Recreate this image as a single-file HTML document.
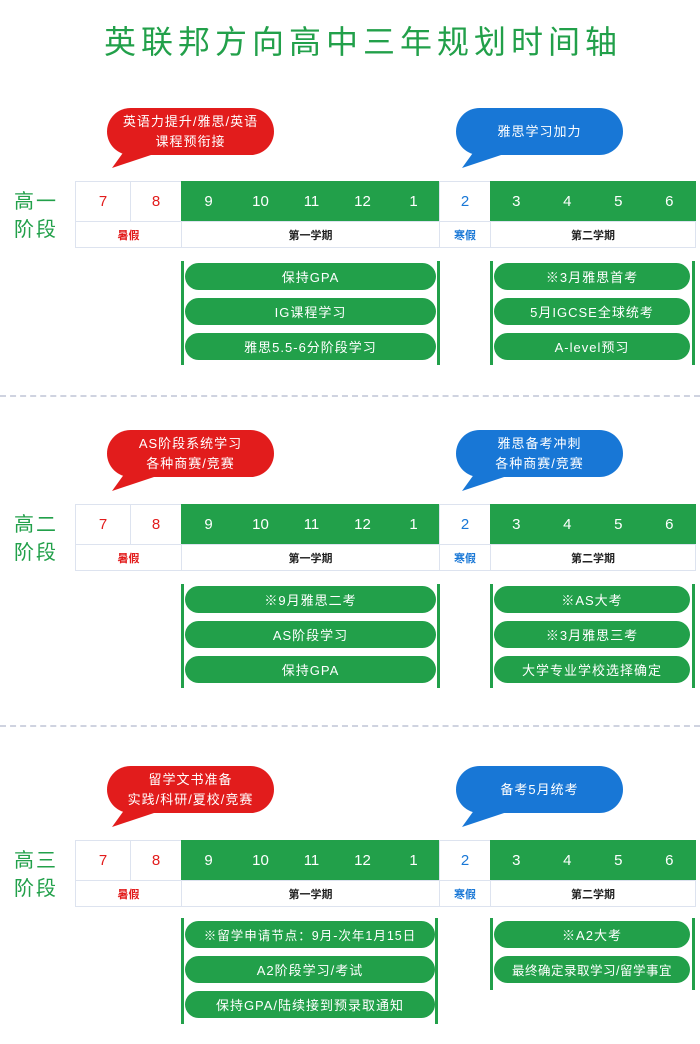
<!DOCTYPE html>
<html><head><meta charset="utf-8"><style>
*{margin:0;padding:0;box-sizing:border-box}
body{width:700px;height:1044px;background:#fff;position:relative;overflow:hidden;font-family:"Liberation Sans","Noto Sans CJK SC",sans-serif}
.t{position:absolute;top:20px;left:0;width:726px;text-align:center;color:#22a04a;font-size:32px;letter-spacing:5px;line-height:44px}
.s{position:absolute;left:0;width:700px;height:300px}
.ab{position:absolute}
.bub{position:absolute;width:167px;height:47px;border-radius:24px;color:#fff;font-size:13px;letter-spacing:1px;display:flex;align-items:center;justify-content:center;text-align:center;line-height:20px}
.red{background:#e21c1c}.blue{background:#1877d6}
.lab{position:absolute;left:14px;color:#22a04a;font-size:20px;line-height:28px;letter-spacing:2px}
.c{position:absolute;display:flex;align-items:center;justify-content:center;font-size:15px;border:1px solid #dde3ef}
.g{background:#22a04a;color:#fff;border-color:#22a04a;justify-content:flex-start}
.g span{display:block;text-align:center}
.sm{font-size:11px;color:#222;font-weight:bold}
.bar{position:absolute;width:3px;background:#22a04a}
.pill{position:absolute;height:27px;border-radius:14px;background:#22a04a;color:#fff;font-size:13px;letter-spacing:1px;display:flex;align-items:center;justify-content:center;white-space:nowrap}
.dash{position:absolute;left:0;width:700px;border-top:2px dashed #cfd3e0}
</style></head><body>
<div class="t">英联邦方向高中三年规划时间轴</div>
<div class="dash" style="top:395px"></div>
<div class="dash" style="top:725px"></div>

<div class="s" style="top:0">
<svg class="ab" style="left:0;top:0" width="700" height="180"><polygon points="125,150 160,152 112,168" fill="#e21c1c"/><polygon points="475,150 510,152 462,168" fill="#1877d6"/></svg>
<div class="bub red" style="left:107px;top:108px">英语力提升/雅思/英语<br>课程预衔接</div>
<div class="bub blue" style="left:456px;top:108px">雅思学习加力</div>
<div class="lab" style="top:188px">高一<br>阶段</div>
<div class="c" style="left:75px;top:181px;width:56px;height:41px;color:#e21c1c">7</div>
<div class="c" style="left:130px;top:181px;width:52px;height:41px;color:#e21c1c">8</div>
<div class="c g" style="left:181px;top:181px;width:259px;height:41px">
<span style="width:53px">9</span><span style="width:51px">10</span><span style="width:51px">11</span><span style="width:51px">12</span><span style="width:51px">1</span></div>
<div class="c" style="left:439px;top:181px;width:52px;height:41px;color:#1877d6">2</div>
<div class="c g" style="left:490px;top:181px;width:206px;height:41px">
<span style="width:51px">3</span><span style="width:52px">4</span><span style="width:51px">5</span><span style="width:52px">6</span></div>
<div class="c sm" style="left:75px;top:221px;width:107px;height:27px;color:#e21c1c">暑假</div>
<div class="c sm" style="left:181px;top:221px;width:259px;height:27px">第一学期</div>
<div class="c sm" style="left:439px;top:221px;width:52px;height:27px;color:#1877d6">寒假</div>
<div class="c sm" style="left:490px;top:221px;width:206px;height:27px">第二学期</div>
<div class="bar" style="left:181px;top:261px;height:104px"></div>
<div class="bar" style="left:437px;top:261px;height:104px"></div>
<div class="bar" style="left:490px;top:261px;height:104px"></div>
<div class="bar" style="left:692px;top:261px;height:104px"></div>
<div class="pill" style="left:185px;top:263px;width:251px">保持GPA</div>
<div class="pill" style="left:185px;top:298px;width:251px">IG课程学习</div>
<div class="pill" style="left:185px;top:333px;width:251px">雅思5.5-6分阶段学习</div>
<div class="pill" style="left:494px;top:263px;width:196px">※3月雅思首考</div>
<div class="pill" style="left:494px;top:298px;width:196px">5月IGCSE全球统考</div>
<div class="pill" style="left:494px;top:333px;width:196px">A-level预习</div>
</div>

<div class="s" style="top:323px">
<svg class="ab" style="left:0;top:0" width="700" height="180"><polygon points="125,150 160,152 112,168" fill="#e21c1c"/><polygon points="475,150 510,152 462,168" fill="#1877d6"/></svg>
<div class="bub red" style="left:107px;top:107px">AS阶段系统学习<br>各种商赛/竞赛</div>
<div class="bub blue" style="left:456px;top:107px">雅思备考冲刺<br>各种商赛/竞赛</div>
<div class="lab" style="top:188px">高二<br>阶段</div>
<div class="c" style="left:75px;top:181px;width:56px;height:41px;color:#e21c1c">7</div>
<div class="c" style="left:130px;top:181px;width:52px;height:41px;color:#e21c1c">8</div>
<div class="c g" style="left:181px;top:181px;width:259px;height:41px">
<span style="width:53px">9</span><span style="width:51px">10</span><span style="width:51px">11</span><span style="width:51px">12</span><span style="width:51px">1</span></div>
<div class="c" style="left:439px;top:181px;width:52px;height:41px;color:#1877d6">2</div>
<div class="c g" style="left:490px;top:181px;width:206px;height:41px">
<span style="width:51px">3</span><span style="width:52px">4</span><span style="width:51px">5</span><span style="width:52px">6</span></div>
<div class="c sm" style="left:75px;top:221px;width:107px;height:27px;color:#e21c1c">暑假</div>
<div class="c sm" style="left:181px;top:221px;width:259px;height:27px">第一学期</div>
<div class="c sm" style="left:439px;top:221px;width:52px;height:27px;color:#1877d6">寒假</div>
<div class="c sm" style="left:490px;top:221px;width:206px;height:27px">第二学期</div>
<div class="bar" style="left:181px;top:261px;height:104px"></div>
<div class="bar" style="left:437px;top:261px;height:104px"></div>
<div class="bar" style="left:490px;top:261px;height:104px"></div>
<div class="bar" style="left:692px;top:261px;height:104px"></div>
<div class="pill" style="left:185px;top:263px;width:251px">※9月雅思二考</div>
<div class="pill" style="left:185px;top:298px;width:251px">AS阶段学习</div>
<div class="pill" style="left:185px;top:333px;width:251px">保持GPA</div>
<div class="pill" style="left:494px;top:263px;width:196px">※AS大考</div>
<div class="pill" style="left:494px;top:298px;width:196px">※3月雅思三考</div>
<div class="pill" style="left:494px;top:333px;width:196px">大学专业学校选择确定</div>
</div>

<div class="s" style="top:659px">
<svg class="ab" style="left:0;top:0" width="700" height="180"><polygon points="125,150 160,152 112,168" fill="#e21c1c"/><polygon points="475,150 510,152 462,168" fill="#1877d6"/></svg>
<div class="bub red" style="left:107px;top:107px">留学文书准备<br>实践/科研/夏校/竞赛</div>
<div class="bub blue" style="left:456px;top:107px">备考5月统考</div>
<div class="lab" style="top:188px">高三<br>阶段</div>
<div class="c" style="left:75px;top:181px;width:56px;height:41px;color:#e21c1c">7</div>
<div class="c" style="left:130px;top:181px;width:52px;height:41px;color:#e21c1c">8</div>
<div class="c g" style="left:181px;top:181px;width:259px;height:41px">
<span style="width:53px">9</span><span style="width:51px">10</span><span style="width:51px">11</span><span style="width:51px">12</span><span style="width:51px">1</span></div>
<div class="c" style="left:439px;top:181px;width:52px;height:41px;color:#1877d6">2</div>
<div class="c g" style="left:490px;top:181px;width:206px;height:41px">
<span style="width:51px">3</span><span style="width:52px">4</span><span style="width:51px">5</span><span style="width:52px">6</span></div>
<div class="c sm" style="left:75px;top:221px;width:107px;height:27px;color:#e21c1c">暑假</div>
<div class="c sm" style="left:181px;top:221px;width:259px;height:27px">第一学期</div>
<div class="c sm" style="left:439px;top:221px;width:52px;height:27px;color:#1877d6">寒假</div>
<div class="c sm" style="left:490px;top:221px;width:206px;height:27px">第二学期</div>
<div class="bar" style="left:181px;top:259px;height:106px"></div>
<div class="bar" style="left:435px;top:259px;height:106px"></div>
<div class="bar" style="left:490px;top:259px;height:72px"></div>
<div class="bar" style="left:692px;top:259px;height:72px"></div>
<div class="pill" style="left:185px;top:262px;width:250px;font-size:12.5px">※留学申请节点：9月-次年1月15日</div>
<div class="pill" style="left:185px;top:297px;width:250px">A2阶段学习/考试</div>
<div class="pill" style="left:185px;top:332px;width:250px">保持GPA/陆续接到预录取通知</div>
<div class="pill" style="left:494px;top:262px;width:196px">※A2大考</div>
<div class="pill" style="left:494px;top:297px;width:196px;font-size:12.5px;letter-spacing:0.5px">最终确定录取学习/留学事宜</div>
</div>
</body></html>
